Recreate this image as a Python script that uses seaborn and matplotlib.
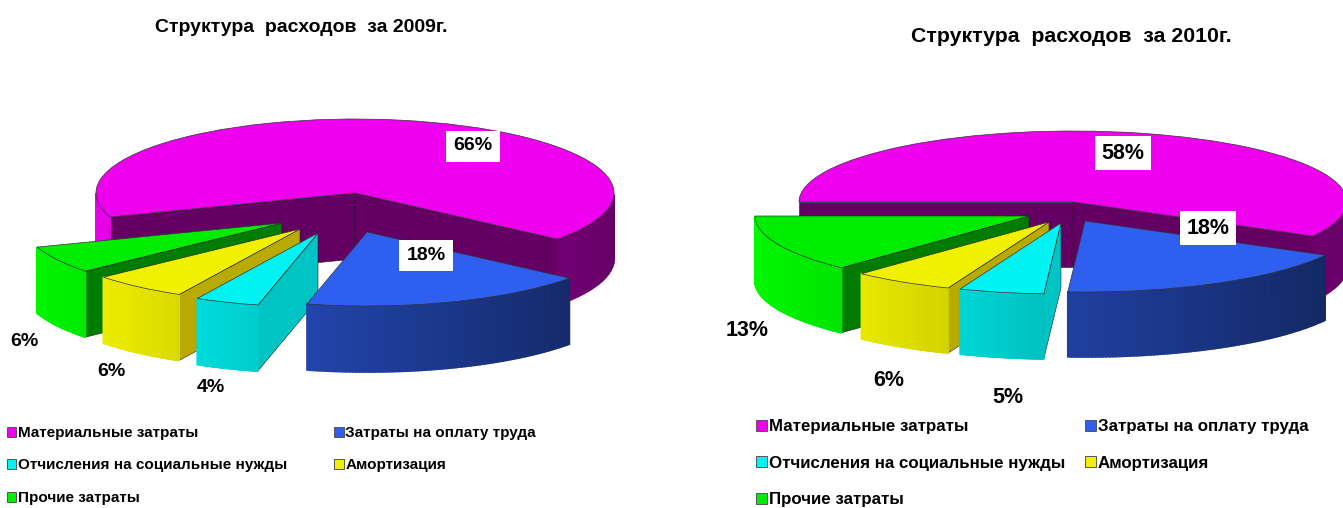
import numpy as np
import seaborn as sns
from matplotlib import pyplot as plt
from matplotlib.colors import to_rgb
from matplotlib.patches import Patch

sns.set_theme(style="white")
plt.rcParams['font.family'] = ['Liberation Sans', 'DejaVu Sans']

W, H = 1343, 508

categories = ['Материальные затраты', 'Затраты на оплату труда', 'Отчисления на социальные нужды', 'Амортизация', 'Прочие затраты']
values_2009 = [66, 18, 4, 6, 6]
values_2010 = [58, 18, 5, 6, 13]
title_2009 = 'Структура  расходов  за 2009г.'
title_2010 = 'Структура  расходов  за 2010г.'

top_colors = ['#ee00ee', '#2f5fee', '#00f2f2', '#f0f000', '#00ec00']
face_colors = ['#640064', '#16306c', '#00c4c4', '#b9aa00', '#007c00']
wall_light = [0.70, 0.66, 0.78, 0.78, 0.78]
slice_order = [0, 4, 3, 2, 1]


def draw_pie(fig, values, start, cx, cy, rx, ry, depth, shifts, label_pos, label_size):
    ax = fig.add_axes([0, 0, 1, 1], facecolor='none')
    wedges, _ = ax.pie(values, colors=top_colors, startangle=start, counterclock=False,
                       wedgeprops={'edgecolor': '#333333', 'linewidth': 0.5})
    ax.set_aspect('auto')
    ax.set_xlim((0 - cx) / rx, (W - cx) / rx)
    ax.set_ylim((cy - H) / ry, cy / ry)
    ax.axis('off')

    d = depth / ry
    ends = start - np.cumsum(values) * 3.6
    starts = np.r_[start, ends[:-1]]

    for rank, i in enumerate(slice_order):
        z = 10 + rank * 4
        ox, oy = shifts[i][0] / rx, -shifts[i][1] / ry
        wedges[i].set_center((ox, oy))
        wedges[i].set_zorder(z + 3)

        # flat side faces, only the ones turned to the viewer
        for ang, normal in ((starts[i], starts[i] + 90), (ends[i], ends[i] - 90)):
            if np.sin(np.radians(normal)) < 0:
                px, py = ox + np.cos(np.radians(ang)), oy + np.sin(np.radians(ang))
                ax.fill([ox, px, px, ox], [oy, py, py - d, oy - d], fc=face_colors[i], ec='#222222', lw=0.4, zorder=z + 1)

        # outer wall, shaded along x
        theta = np.radians(np.linspace(starts[i], ends[i], 90))
        base = np.array(to_rgb(top_colors[i]))
        for a, b in zip(theta[:-1], theta[1:]):
            if np.sin((a + b) / 2) >= 0:
                continue
            shade = wall_light[i] - 0.27 * np.cos((a + b) / 2)
            xs = ox + np.cos([a, b, b, a])
            ys = oy + np.sin([a, b, b, a]) - np.array([0, 0, d, d])
            ax.fill(xs, ys, color=np.clip(base * shade, 0, 1), lw=1.2, zorder=z + 2)

    for v, (lx, ly, boxed) in zip(values, label_pos):
        bbox = {'facecolor': 'white', 'edgecolor': 'none', 'pad': 5} if boxed else None
        ax.text((lx - cx) / rx, (cy - ly) / ry, f'{v}%', ha='center', va='center', fontsize=label_size,
                fontweight='bold', color='black', bbox=bbox, zorder=60)
    return ax


def draw_legend(fig, x, y, size, gap, spacing):
    handles = [Patch(facecolor=c, edgecolor='#555555', linewidth=0.7) for c in top_colors]
    order = [0, 2, 4, 1, 3]
    fig.legend([handles[i] for i in order], [categories[i] for i in order], ncol=2, frameon=False,
               loc='upper left', bbox_to_anchor=(x / W, 1 - y / H), borderpad=0, borderaxespad=0,
               handlelength=0.62, handleheight=0.62, handletextpad=0.12, columnspacing=gap,
               labelspacing=spacing, labelcolor='black', prop={'size': size, 'weight': 'bold'})


fig = plt.figure(figsize=(W / 100, H / 100), dpi=100)

draw_pie(fig, values_2009, 199, 355, 193, 259, 74, 66,
         [(0, 0), (12, 39), (-37, 40), (-55, 36), (-73, 30)],
         [(473, 146, True), (426, 255, True), (211, 387, False), (111, 372, False), (24, 341, False)], 14)
draw_pie(fig, values_2010, 180, 1073, 202, 274, 71, 65,
         [(0, 0), (12, 19), (-12, 21), (-24, 20), (-44, 14)],
         [(1123, 153, True), (1208, 228, True), (1008, 397, False), (889, 380, False), (747, 330, False)], 15.5)

fig.text(301 / W, 1 - 27 / H, title_2009, ha='center', va='center', fontsize=14, fontweight='bold', color='black')
fig.text(1071 / W, 1 - 36 / H, title_2010, ha='center', va='center', fontsize=15.3, fontweight='bold', color='black')

draw_legend(fig, 7, 426, 11, 3.05, 1.21)
draw_legend(fig, 756, 419, 12.2, 1.2, 1.27)

plt.savefig('out.png', dpi=100)
